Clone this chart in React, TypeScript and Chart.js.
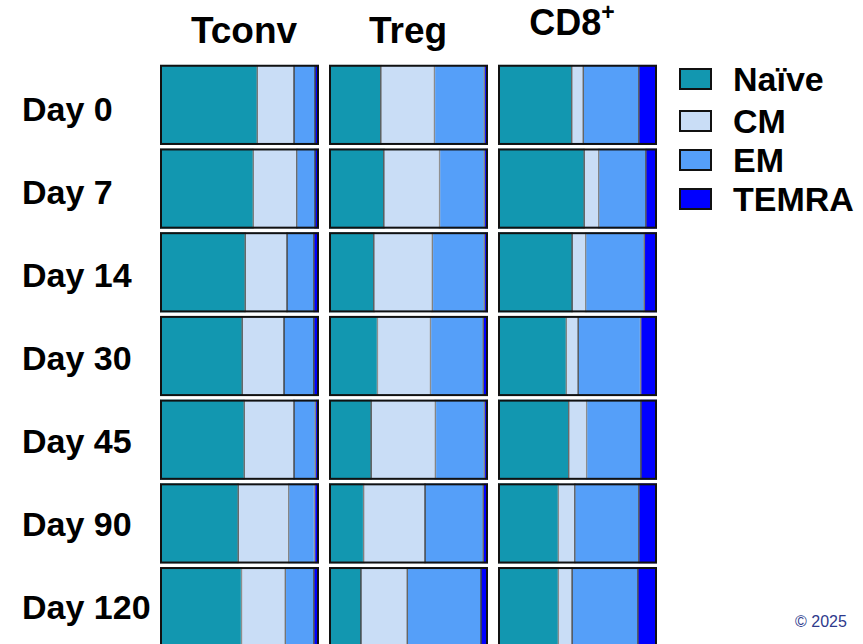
import React, { useEffect, useRef } from "react";
import { Chart, registerables } from "chart.js";

Chart.register(...registerables);

const days = ["Day 0", "Day 7", "Day 14", "Day 30", "Day 45", "Day 90", "Day 120"];
const subsets = ["Naïve", "CM", "EM", "TEMRA"];
const subsetColors = ["#1297B0", "#C9DDF6", "#559FF9", "#0000FF"];

const tconvNaive = [61.2, 58.7, 53.6, 51.7, 53.0, 49.2, 51.3];
const tconvCM = [23.1, 27.3, 26.3, 26.3, 31.3, 31.7, 27.5];
const tconvEM = [13.2, 11.5, 16.9, 18.8, 13.4, 16.3, 18.0];
const tconvTEMRA = [2.5, 2.5, 3.2, 3.2, 2.3, 2.8, 3.2];

const tregNaive = [32.6, 34.5, 28.2, 30.5, 26.5, 21.8, 20.1];
const tregCM = [33.7, 35.0, 36.8, 33.3, 40.4, 38.6, 29.1];
const tregEM = [31.4, 28.2, 32.7, 33.2, 30.8, 36.6, 46.4];
const tregTEMRA = [2.3, 2.3, 2.3, 3.0, 2.3, 3.0, 4.4];

const cd8Naive = [46.4, 54.2, 46.6, 43.0, 44.5, 38.0, 38.0];
const cd8CM = [7.2, 9.1, 8.5, 7.4, 11.2, 10.3, 8.6];
const cd8EM = [35.0, 29.7, 36.9, 39.3, 34.2, 40.3, 41.4];
const cd8TEMRA = [11.4, 7.0, 8.0, 10.3, 10.1, 11.4, 12.0];

const FONT = '"Liberation Sans", Arial, Helvetica, sans-serif';

const frameBars = {
  id: "frameBars",
  afterDatasetsDraw(chart: any) {
    const ctx = chart.ctx;
    const n = chart.data.datasets.length;
    const first = chart.getDatasetMeta(0).data;
    const last = chart.getDatasetMeta(n - 1).data;
    ctx.save();
    ctx.strokeStyle = "#111";
    ctx.lineWidth = 2;
    for (let i = 0; i < first.length; i++) {
      const a: any = first[i];
      const b: any = last[i];
      const x0 = a.base;
      const x1 = b.x;
      const h = a.height;
      ctx.strokeRect(x0 + 1, a.y - h / 2 + 1, x1 - x0 - 2, h - 2);
    }
    ctx.restore();
  },
};

function Panel({ series, left }: { series: number[][]; left: number }) {
  const ref = useRef<HTMLCanvasElement>(null);
  useEffect(() => {
    if (!ref.current) return;
    const chart = new Chart(ref.current, {
      type: "bar",
      data: {
        labels: days,
        datasets: subsets.map((s, k) => ({
          label: s,
          data: series[k],
          backgroundColor: subsetColors[k],
          borderColor: "#000",
          borderWidth: { top: 0, bottom: 0, left: 0.75, right: 0.75 },
          borderSkipped: false,
          barPercentage: 1,
          categoryPercentage: 0.958,
        })),
      },
      options: {
        indexAxis: "y",
        responsive: false,
        animation: false,
        layout: { padding: 0 },
        plugins: { legend: { display: false }, tooltip: { enabled: false } },
        scales: {
          x: { stacked: true, min: 0, max: 100, display: false },
          y: { stacked: true, display: false },
        },
      },
      plugins: [frameBars],
    } as any);
    return () => chart.destroy();
  }, []);
  return (
    <canvas
      ref={ref}
      width={159}
      height={586}
      style={{ position: "absolute", left, top: 63, width: 159, height: 586 }}
    />
  );
}

const titleStyle: React.CSSProperties = {
  position: "absolute",
  fontFamily: FONT,
  fontWeight: "bold",
  fontSize: 37,
  lineHeight: "37px",
  whiteSpace: "nowrap",
  transform: "translateX(-50%)",
  color: "#000",
};

const labelStyle: React.CSSProperties = {
  position: "absolute",
  fontFamily: FONT,
  fontWeight: "bold",
  fontSize: 34,
  lineHeight: "34px",
  whiteSpace: "nowrap",
  color: "#000",
};

export default function App() {
  return (
    <div
      style={{
        position: "absolute",
        left: 0,
        top: 0,
        width: 863,
        height: 644,
        overflow: "hidden",
        background: "#fff",
      }}
    >
      <div style={{ ...titleStyle, left: 244, top: 12 }}>Tconv</div>
      <div style={{ ...titleStyle, left: 408, top: 12 }}>Treg</div>
      <div style={{ ...titleStyle, left: 572, top: 5, fontSize: 36, lineHeight: "36px" }}>
        CD8
        <span style={{ fontSize: 23, position: "relative", top: -15 }}>+</span>
      </div>

      {days.map((d, i) => (
        <div key={d} style={{ ...labelStyle, left: 22, top: 109 + i * 83 - 17 }}>
          {d}
        </div>
      ))}

      <Panel series={[tconvNaive, tconvCM, tconvEM, tconvTEMRA]} left={160} />
      <Panel series={[tregNaive, tregCM, tregEM, tregTEMRA]} left={329} />
      <Panel series={[cd8Naive, cd8CM, cd8EM, cd8TEMRA]} left={498} />

      {subsets.map((s, k) => {
        const cy = [79, 121, 160, 199][k];
        return (
          <React.Fragment key={s}>
            <div
              style={{
                position: "absolute",
                left: 679,
                top: cy - 11,
                width: 33,
                height: 22,
                boxSizing: "border-box",
                border: "2.5px solid #111",
                background: subsetColors[k],
              }}
            />
            <div style={{ ...labelStyle, left: 733, top: cy - 17 }}>{s}</div>
          </React.Fragment>
        );
      })}

      <div
        style={{
          position: "absolute",
          left: 795,
          top: 614,
          fontFamily: FONT,
          fontSize: 16,
          lineHeight: "16px",
          color: "#2E3A8C",
          whiteSpace: "nowrap",
        }}
      >
        © 2025
      </div>
    </div>
  );
}
